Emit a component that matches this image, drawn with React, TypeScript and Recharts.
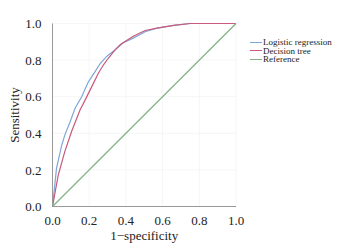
import { LineChart, Line, XAxis, YAxis, CartesianGrid } from "recharts";

// ROC curve points: [1-specificity, sensitivity]
const logisticX = [0, 0.022, 0.049, 0.067, 0.095, 0.123, 0.159, 0.195, 0.232, 0.259, 0.295, 0.34, 0.386, 0.44, 0.505, 0.57, 0.66, 0.75, 1];
const logisticY = [0, 0.21, 0.33, 0.39, 0.46, 0.537, 0.6, 0.68, 0.737, 0.78, 0.82, 0.855, 0.895, 0.92, 0.955, 0.975, 0.99, 1, 1];

const treeX = [0, 0.031, 0.067, 0.104, 0.15, 0.177, 0.214, 0.25, 0.277, 0.304, 0.34, 0.37, 0.44, 0.505, 0.57, 0.66, 0.75, 1];
const treeY = [0, 0.17, 0.3, 0.41, 0.527, 0.58, 0.655, 0.728, 0.773, 0.81, 0.855, 0.885, 0.93, 0.962, 0.975, 0.99, 1, 1];

const refX = [0, 1];
const refY = [0, 1];

const ticks = [0, 0.2, 0.4, 0.6, 0.8, 1];

const series = [
  { name: "Logistic regression", color: "#7ea7d8", xs: logisticX, ys: logisticY },
  { name: "Decision tree", color: "#c85a7c", xs: treeX, ys: treeY },
  { name: "Reference", color: "#80b283", xs: refX, ys: refY },
];

const font = "'Liberation Serif', serif";

export default function App() {
  return (
    <div style={{ position: "absolute", left: 0, top: 0, width: 345, height: 248, background: "#fff", fontFamily: font }}>
      <LineChart width={345} height={248} margin={{ top: 23.5, right: 109, bottom: 0, left: 0 }} style={{ fontFamily: font }}>
        <CartesianGrid stroke="#f6f6f6" />
        <XAxis
          type="number"
          dataKey="x"
          domain={[0, 1]}
          ticks={ticks}
          tickFormatter={(v: number) => v.toFixed(1)}
          tickLine={false}
          tickMargin={3}
          axisLine={{ stroke: "#999" }}
          tick={{ fill: "#222", fontSize: 13, fontFamily: font }}
          label={{ value: "1\u2212specificity", position: "insideBottom", offset: 8, style: { fill: "#222", fontSize: 13, fontFamily: font } }}
          height={41.5}
        />
        <YAxis
          type="number"
          dataKey="y"
          domain={[0, 1]}
          ticks={ticks}
          tickFormatter={(v: number) => v.toFixed(1)}
          tickLine={false}
          tickMargin={5}
          axisLine={{ stroke: "#999" }}
          tick={{ fill: "#222", fontSize: 13, fontFamily: font }}
          width={52.5}
          label={{ value: "Sensitivity", angle: -90, position: "insideLeft", offset: 14, style: { fill: "#222", fontSize: 13, fontFamily: font, textAnchor: "middle" } }}
        />
        {series.map(s => (
          <Line
            key={s.name}
            data={s.xs.map((x, i) => ({ x, y: s.ys[i] }))}
            dataKey="y"
            name={s.name}
            stroke={s.color}
            strokeWidth={1.2}
            dot={false}
            type="linear"
            isAnimationActive={false}
          />
        ))}
      </LineChart>
      <div style={{ position: "absolute", left: 250, top: 38, fontSize: 9, color: "#222", lineHeight: "8.6px", whiteSpace: "nowrap" }}>
        {series.map(s => (
          <div key={s.name} style={{ display: "flex", alignItems: "center", height: 8.6 }}>
            <span style={{ width: 12, borderTop: `1px solid ${s.color}`, display: "inline-block", marginRight: 1 }} />
            {s.name}
          </div>
        ))}
      </div>
    </div>
  );
}
